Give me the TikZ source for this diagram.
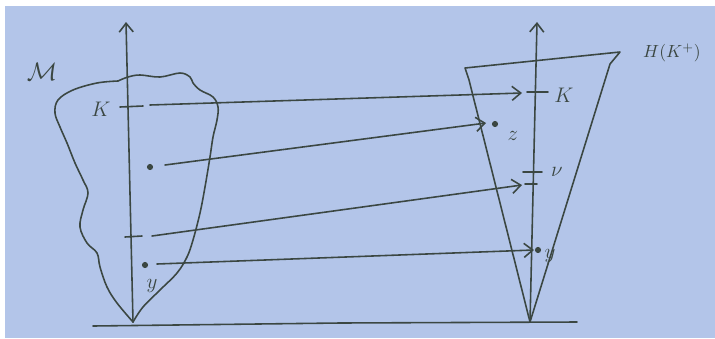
\documentclass[tikz,border=0pt]{standalone}
\usetikzlibrary{arrows.meta}
\definecolor{paper}{HTML}{B3C5E9}
\definecolor{ink}{HTML}{3B4742}

\begin{document}
\begin{tikzpicture}[x=0.02cm, y=-0.02cm,
		pen/.style={draw=ink, line width=0.9pt, line cap=round, line join=round},
		mapto/.style={pen, -{Straight Barb[length=5pt, width=8pt]}},
		lbl/.style={text=ink, inner sep=1pt, font=\large},
		pt/.style={circle, fill=ink, inner sep=0pt, minimum size=3.5pt}
		]
		% paper
		\fill[white] (0,0) rectangle (715,338);
		\fill[paper] (5,6) rectangle (715,338);
		\useasboundingbox (0,0) rectangle (715,338);
		
		% ground line and the two axes
		\coordinate (oL) at (133,322);
		\coordinate (oR) at (530,322);
		\coordinate (tL) at (126,22);
		\coordinate (tR) at (537,22);
		\draw[pen] (93,326) -- (340,323) -- (577,322);
		\draw[mapto] (oL) -- (tL);
		\draw[mapto] (oR) -- (tR);
		
		% the set M
		\draw[pen] plot[smooth, tension=0.6] coordinates {(118,81) (97,83) (73,90) (58,100) (55,113) (60,127) (67,143) (75,163) (83,180) (88,193) (83,210) (80,227) (87,243) (97,253) (100,267) (107,287) (117,303) (133,322)};
		\draw[pen] plot[smooth, tension=0.6] coordinates {(133,322) (143,307) (160,290) (177,273) (187,257) (193,240) (200,213) (205,187) (210,157) (213,137) (217,120) (218,107) (213,97) (200,90) (193,83) (190,77) (180,73) (160,77) (140,75) (128,77) (118,81)};
		\node[lbl, font=\Large] (mM) at (42,72) {$\mathcal{M}$};
		
		% the cone H(K+)
		\draw[pen] (oR) -- (610,64) -- (620,52) -- (465,68) -- (469,80) -- cycle;
		\node[lbl, font=\normalsize] (hK) at (672,53) {$H(K^+)$};
		
		% ticks and points, left
		\draw[pen] (120,107) -- (143,106);
		\draw[pen] (125,237) -- (142,236);
		\node[lbl] (kL) at (101,109) {$K$};
		\node[pt] (zL) at (150,167) {};
		\node[pt] (yL) at (145,265) {};
		\node[lbl] (yLl) at (152,286) {$y$};
		
		% ticks and points, right
		\draw[pen] (527,92) -- (548,92);
		\draw[pen] (523,172) -- (542,172);
		\draw[pen] (525,184) -- (537,184);
		\node[lbl] (kR) at (564,95) {$K$};
		\node[pt] (zR) at (495,124) {};
		\node[lbl] (zRl) at (513,136) {$z$};
		\node[lbl] (nuR) at (557,172) {$\nu$};
		\node[pt] (yR) at (538,250) {};
		\node[lbl] (yRl) at (550,256) {$y$};
		
		% the maps
		\coordinate (aK) at (150,105);
		\coordinate (bK) at (522,93);
		\coordinate (aZ) at (165,165);
		\coordinate (bZ) at (486,123);
		\coordinate (aT) at (152,236);
		\coordinate (bT) at (522,185);
		\coordinate (aY) at (157,264);
		\coordinate (bY) at (534,250);
		\draw[mapto] (aK) -- (bK);
		\draw[mapto] (aZ) -- (bZ);
		\draw[mapto] (aT) -- (bT);
		\draw[mapto] (aY) -- (bY);
		
	\end{tikzpicture}
\end{document}
